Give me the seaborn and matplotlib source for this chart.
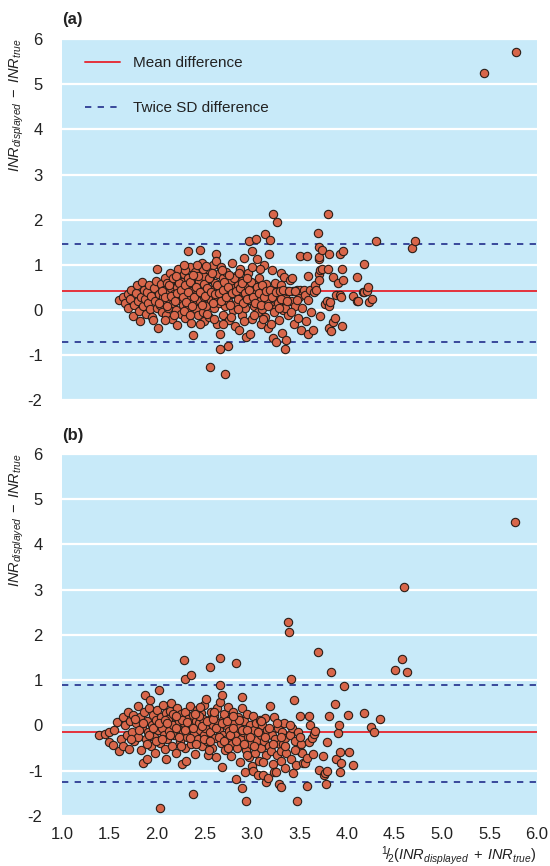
import numpy as np
import pandas as pd
import seaborn as sns
from matplotlib import pyplot as plt

# (mean, difference) pairs
a_pts = [
    (1.60,0.22),(1.64,0.30),(1.66,0.15),(1.69,0.35),(1.70,0.05),(1.72,0.25),(1.73,0.45),(1.75,-0.14),(1.76,0.12),(1.78,0.38),
    (1.79,0.55),(1.80,0.20),(1.81,-0.02),(1.82,-0.24),(1.83,0.30),(1.84,0.62),(1.85,0.10),(1.86,0.45),(1.87,0.25),(1.88,-0.08),
    (1.90,0.40),(1.91,0.15),(1.92,0.55),(1.93,0.02),(1.94,0.32),(1.95,-0.15),(1.96,-0.21),(1.97,0.48),(1.98,0.20),(1.99,0.65),
    (2.00,0.92),(2.00,0.05),(2.01,-0.39),(2.02,0.35),(2.03,0.12),(2.04,0.58),(2.05,-0.05),(2.06,0.28),(2.07,0.45),(2.08,0.72),
    (2.09,0.18),(2.10,-0.12),(2.10,0.38),(2.11,0.60),(2.12,0.05),(2.13,0.25),(2.14,0.82),(2.15,0.48),(2.16,-0.20),(2.17,0.15),
    (2.18,0.35),(2.19,0.68),(2.20,0.00),(2.21,-0.34),(2.21,0.52),(2.22,0.92),(2.23,0.22),(2.24,0.40),(2.25,-0.08),(2.26,0.62),
    (2.27,0.12),(2.28,0.80),(2.29,0.30),(2.30,-0.18),(2.31,0.50),(2.32,0.05),(2.33,1.31),(2.33,0.70),(2.34,0.25),(2.35,0.95),
    (2.36,-0.28),(2.37,0.42),(2.38,-0.55),(2.38,0.15),(2.39,0.58),(2.40,0.85),(2.41,0.02),(2.42,0.35),(2.43,-0.12),(2.44,0.65),
    (2.45,1.32),(2.45,0.20),(2.46,0.48),(2.47,1.05),(2.48,-0.05),(2.49,0.75),(2.50,0.30),(2.50,-0.25),(2.51,0.55),(2.52,0.10),
    (2.53,0.90),(2.54,0.38),(2.55,-0.15),(2.56,-1.26),(2.56,0.68),(2.57,0.22),(2.58,0.45),(2.59,1.00),(2.60,0.05),(2.61,0.60),
    (2.62,1.25),(2.62,1.09),(2.62,0.30),(2.63,-0.30),(2.64,0.80),(2.65,0.15),(2.66,-0.53),(2.66,-0.87),(2.66,0.50),(2.67,0.95),
    (2.68,0.25),(2.69,-0.10),(2.70,0.70),(2.71,0.40),(2.72,-1.42),(2.72,0.08),(2.73,0.85),(2.74,0.55),(2.75,-0.79),(2.75,0.20),
    (2.76,-0.22),(2.77,0.62),(2.78,0.35),(2.79,1.05),(2.80,0.00),(2.81,0.48),(2.82,-0.35),(2.83,0.75),(2.84,0.15),(2.85,0.55),
    (2.86,-0.45),(2.87,0.90),(2.88,0.28),(2.89,-0.10),(2.90,0.65),(2.91,0.40),(2.92,1.15),(2.93,0.05),(2.94,-0.59),(2.95,0.52),
    (2.96,0.82),(2.97,1.52),(2.97,0.22),(2.98,-0.53),(2.99,0.35),(3.00,1.30),(3.00,-0.20),(3.01,0.60),(3.02,0.10),(3.03,0.45),
    (3.04,1.57),(3.05,1.12),(3.05,0.30),(3.06,-0.05),(3.07,0.72),(3.08,0.20),(3.09,-0.30),(3.10,0.50),(3.11,0.02),(3.12,0.38),
    (3.13,0.99),(3.14,1.68),(3.14,-0.15),(3.15,0.58),(3.16,0.25),(3.17,-0.40),(3.18,1.24),(3.18,0.42),(3.19,1.55),(3.20,0.10),
    (3.21,0.88),(3.22,2.13),(3.22,-0.62),(3.23,0.32),(3.24,0.60),(3.25,-0.70),(3.25,0.05),(3.26,1.94),(3.27,0.42),(3.28,-0.22),
    (3.29,0.18),(3.30,0.55),(3.31,0.81),(3.32,-0.51),(3.32,0.40),(3.33,0.00),(3.34,0.73),(3.35,-0.87),(3.35,0.30),(3.36,-0.67),
    (3.37,0.42),(3.38,-0.10),(3.40,0.66),(3.41,0.20),(3.42,0.72),(3.43,0.42),(3.44,-0.30),(3.45,0.10),(3.47,0.45),(3.48,-0.18),
    (3.49,0.30),(3.50,0.44),(3.51,1.19),(3.52,-0.43),(3.53,0.05),(3.55,0.44),(3.56,0.33),(3.57,-0.25),(3.58,1.19),(3.59,0.22),
    (3.59,0.76),(3.59,-0.53),(3.61,0.45),(3.62,-0.05),(3.64,-0.45),(3.65,0.40),(3.66,0.55),(3.67,0.44),(3.69,1.71),(3.70,1.40),
    (3.70,1.14),(3.70,0.79),(3.71,0.66),(3.71,1.17),(3.72,0.88),(3.72,-0.13),(3.74,1.32),(3.74,0.90),(3.77,0.14),(3.79,0.20),
    (3.80,2.13),(3.80,0.90),(3.81,1.24),(3.81,0.08),(3.81,-0.39),(3.82,0.18),(3.83,-0.46),(3.85,0.73),(3.85,-0.26),(3.87,-0.17),
    (3.88,0.33),(3.91,0.60),(3.93,1.23),(3.93,0.33),(3.94,0.29),(3.95,0.90),(3.95,-0.35),(3.96,1.31),(3.96,0.66),(4.06,0.32),
    (4.10,0.73),(4.11,0.21),(4.12,0.20),(4.17,0.39),(4.18,1.03),(4.18,0.40),(4.21,0.42),(4.22,0.50),(4.23,0.18),(4.26,0.25),
    (4.31,1.53),(4.68,1.38),(4.72,1.53),(5.44,5.24),(5.78,5.71),
]
a_fill = [
    (2.02,0.15),(2.05,0.42),(2.08,0.30),(2.11,0.10),(2.13,0.55),(2.15,0.32),(2.17,0.70),(2.19,0.20),(2.21,0.38),(2.23,0.60),
    (2.25,0.45),(2.27,0.28),(2.29,0.55),(2.31,0.18),(2.33,0.40),(2.35,0.62),(2.37,0.08),(2.39,0.30),(2.41,0.52),(2.43,0.75),
    (2.45,0.40),(2.47,0.12),(2.49,0.58),(2.51,0.32),(2.53,0.48),(2.55,0.70),(2.57,0.40),(2.59,0.15),(2.61,0.35),(2.63,0.55),
    (2.65,0.38),(2.67,0.20),(2.69,0.45),(2.71,0.62),(2.73,0.30),(2.75,0.50),(2.77,0.12),(2.79,0.38),(2.81,0.70),(2.83,0.42),
    (2.85,0.25),(2.87,0.48),(2.89,0.60),(2.91,0.15),(2.93,0.38),(2.95,0.25),(2.97,0.45),(2.99,0.62),(3.01,0.30),(3.03,0.15),
    (3.05,0.50),(3.07,0.38),(3.09,0.12),(3.11,0.55),(3.13,0.30),(3.15,0.42),(3.17,0.08),(3.19,0.45),(3.21,0.28),(3.23,-0.05),
    (3.25,0.40),(3.27,0.15),(3.29,0.42),(3.31,0.25),(3.33,0.45),(3.35,0.05),(3.37,0.20),(3.39,0.42),(3.41,-0.05),(3.45,0.42),
    (3.47,0.22),(2.08,-0.22),(2.18,-0.10),(2.28,-0.02),(2.35,-0.10),(2.45,-0.30),(2.53,-0.08),(2.60,-0.20),(2.70,-0.30),(2.78,-0.15),
    (2.85,0.02),(2.92,-0.25),(3.02,-0.12),(3.12,-0.20),(3.20,-0.30),(3.28,0.05),(2.20,0.75),(2.30,0.88),(2.38,0.78),(2.48,0.90),
    (2.58,0.82),(2.68,0.88),(2.76,0.78),(2.86,0.82),(2.95,0.70),(3.08,0.90),(3.00,0.95),(2.52,0.98),(2.42,1.00),(2.28,1.00),
]
# (mean, difference) pairs
b_pts = [
    (1.39,-0.20),(1.45,-0.18),(1.49,-0.15),(1.49,-0.36),(1.54,-0.44),(1.55,-0.10),(1.575,0.08),(1.60,-0.57),(1.62,-0.30),(1.64,0.19),
    (1.645,-0.45),(1.66,0.00),(1.68,-0.20),(1.70,0.30),(1.71,-0.52),(1.72,0.10),(1.74,-0.15),(1.75,0.22),(1.76,-0.35),(1.78,0.05),
    (1.80,0.42),(1.80,-0.25),(1.82,0.18),(1.83,-0.55),(1.84,-0.05),(1.85,-0.83),(1.86,0.30),(1.87,0.67),(1.88,-0.30),(1.89,-0.73),
    (1.90,0.10),(1.91,-0.15),(1.92,0.38),(1.93,0.56),(1.94,-0.45),(1.95,0.00),(1.96,0.22),(1.97,-0.25),(1.98,-0.60),(1.99,0.12),
    (2.00,0.35),(2.01,-0.10),(2.02,0.78),(2.03,-1.83),(2.03,-0.38),(2.04,0.18),(2.05,-0.05),(2.06,0.45),(2.07,-0.22),(2.08,-0.52),
    (2.09,-0.73),(2.10,0.08),(2.10,0.28),(2.11,-0.30),(2.12,0.15),(2.13,-0.12),(2.14,0.32),(2.15,0.50),(2.16,-0.45),(2.17,0.02),
    (2.18,-0.20),(2.19,0.20),(2.20,-0.60),(2.21,0.38),(2.22,-0.08),(2.23,0.10),(2.24,-0.35),(2.25,0.25),(2.26,-0.86),(2.27,-0.15),
    (2.28,1.45),(2.28,0.05),(2.29,-0.50),(2.30,1.02),(2.30,0.30),(2.31,-0.78),(2.32,-0.25),(2.33,0.15),(2.34,-0.05),(2.35,0.42),
    (2.36,1.11),(2.36,-0.40),(2.37,0.00),(2.38,-1.51),(2.38,0.22),(2.39,-0.18),(2.40,-0.62),(2.41,0.10),(2.42,0.35),(2.43,-0.30),
    (2.44,0.05),(2.45,-0.10),(2.46,0.28),(2.47,-0.45),(2.48,0.15),(2.49,-0.22),(2.50,0.45),(2.51,-0.05),(2.52,0.58),(2.53,-0.35),
    (2.54,-0.65),(2.55,0.12),(2.56,1.30),(2.56,-0.15),(2.57,0.30),(2.58,-0.50),(2.59,0.00),(2.60,0.20),(2.61,-0.28),(2.62,-0.70),
    (2.63,0.38),(2.64,0.05),(2.65,-0.10),(2.66,1.50),(2.66,0.90),(2.66,0.52),(2.67,-0.38),(2.68,0.67),(2.68,-0.91),(2.69,0.12),
    (2.70,-0.20),(2.71,0.25),(2.72,-0.55),(2.73,0.00),(2.74,-0.30),(2.75,0.40),(2.76,-0.12),(2.77,0.15),(2.78,-0.68),(2.79,-0.40),
    (2.80,0.30),(2.81,0.05),(2.82,-0.22),(2.83,1.37),(2.83,-1.19),(2.84,-0.50),(2.85,0.18),(2.86,-0.05),(2.87,-0.80),(2.88,-0.30),
    (2.89,0.38),(2.90,0.62),(2.90,-1.39),(2.91,-0.15),(2.92,0.10),(2.93,-1.03),(2.94,-1.67),(2.94,-0.55),(2.95,0.25),(2.96,-0.25),
    (2.97,-0.70),(2.98,0.02),(2.99,-0.40),(3.00,-0.90),(3.01,0.21),(3.01,-1.00),(3.02,-0.10),(3.03,-0.60),(3.04,0.05),(3.05,-0.32),
    (3.06,-1.09),(3.07,-0.78),(3.08,0.12),(3.09,-0.20),(3.10,-0.50),(3.11,0.00),(3.12,-1.09),(3.13,-0.35),(3.14,0.16),(3.15,-1.24),
    (3.15,-0.65),(3.16,-0.10),(3.17,-1.17),(3.18,-0.45),(3.19,0.44),(3.20,-0.57),(3.21,-0.20),(3.22,-0.85),(3.23,0.19),(3.23,-1.03),
    (3.24,-0.30),(3.25,-1.03),(3.26,-0.65),(3.27,-0.05),(3.28,-1.29),(3.29,-0.42),(3.30,-0.78),(3.30,-0.56),(3.31,-1.35),(3.32,-0.15),
    (3.33,-0.42),(3.34,0.05),(3.35,-0.28),(3.36,-0.60),(3.38,2.28),(3.39,2.07),(3.40,-0.20),(3.41,1.02),(3.41,-0.75),(3.42,-0.05),
    (3.43,-1.04),(3.44,0.56),(3.45,-0.35),(3.46,-0.87),(3.47,-1.67),(3.48,-0.15),(3.51,0.21),(3.52,-0.42),(3.52,-0.59),(3.53,-0.60),
    (3.54,-0.84),(3.56,-0.84),(3.58,-1.33),(3.58,-0.71),(3.60,0.21),(3.60,-0.36),(3.61,0.02),(3.63,-0.27),(3.64,-0.62),(3.65,-0.19),
    (3.66,-0.12),(3.69,1.62),(3.71,-0.98),(3.75,-0.67),(3.76,-1.09),(3.77,-1.06),(3.78,-1.30),(3.79,-1.00),(3.79,-0.37),(3.81,0.21),
    (3.83,1.19),(3.87,0.47),(3.88,-0.75),(3.90,-0.16),(3.92,0.00),(3.93,-0.58),(3.93,-1.02),(3.94,-0.84),(3.97,0.86),(4.01,0.23),
    (4.02,-0.59),(4.06,-0.87),(4.18,0.27),(4.25,-0.03),(4.28,-0.14),(4.35,0.14),(4.51,1.22),(4.58,1.46),(4.60,3.05),(4.63,1.19),
    (5.77,4.49),
]
b_fill = [
    (1.73,-0.30),(1.77,0.15),(1.81,-0.10),(1.85,0.05),(1.89,-0.40),(1.92,-0.20),(1.96,-0.05),(1.99,-0.35),(2.02,0.05),(2.05,-0.30),
    (2.08,0.12),(2.11,0.05),(2.14,-0.20),(2.17,0.25),(2.20,-0.05),(2.23,-0.25),(2.26,0.12),(2.29,-0.10),(2.32,0.08),(2.35,-0.28),
    (2.38,-0.05),(2.41,-0.40),(2.44,0.20),(2.47,-0.02),(2.50,-0.30),(2.53,0.10),(2.56,-0.35),(2.59,0.15),(2.62,-0.05),(2.65,-0.25),
    (2.68,0.05),(2.71,-0.35),(2.74,0.10),(2.77,-0.22),(2.80,-0.05),(2.83,-0.35),(2.86,0.12),(2.89,-0.10),(2.92,-0.40),(2.95,-0.10),
    (2.98,-0.25),(3.02,-0.45),(3.06,-0.15),(3.10,0.10),(3.14,-0.25),(3.18,-0.05),(3.22,-0.40),(3.26,0.05),(3.30,-0.25),(3.35,-0.45),
    (3.40,0.00),(3.45,-0.55),(3.50,-0.25),(2.20,0.20),(2.40,0.25),(2.60,0.30),(2.80,0.20),(2.45,0.40),(2.25,-0.45),(2.55,-0.55),
    (2.75,-0.50),(2.95,-0.65),(3.12,-0.80),(3.35,-0.95),
]

# reference lines: mean and mean +/- 2 SD
a_lines = [0.43, 1.47, -0.71]
b_lines = [-0.15, 0.89, -1.25]

x_ticks = [1.0, 1.5, 2.0, 2.5, 3.0, 3.5, 4.0, 4.5, 5.0, 5.5, 6.0]
y_ticks = [-2, -1, 0, 1, 2, 3, 4, 5, 6]

bg = "#c8eaf9"
dot = "#d8664a"
red = "#e4333c"
navy = "#2e3b94"
ink = "#222222"

sns.set_style("white")
plt.rcParams['font.family'] = ['Liberation Sans', 'DejaVu Sans']
plt.rcParams['mathtext.fontset'] = 'custom'
plt.rcParams['mathtext.rm'] = 'Liberation Sans'
plt.rcParams['mathtext.it'] = 'Liberation Sans:italic'
plt.rcParams['axes.unicode_minus'] = False

fig = plt.figure(figsize=(5.5, 8.66), dpi=100)
ax_a = fig.add_axes([0.1127, 0.5376, 0.8637, 0.4174])
ax_b = fig.add_axes([0.1127, 0.0577, 0.8637, 0.4184])

ylab = r'$\mathit{INR}_{\mathit{displayed}}\;-\;\mathit{INR}_{\mathit{true}}$'

for ax, pts, lines in [(ax_a, a_pts + a_fill, a_lines), (ax_b, b_pts + b_fill, b_lines)]:
    df = pd.DataFrame(pts, columns=["mean", "diff"])
    ax.set_facecolor(bg)
    for y in y_ticks:
        ax.axhline(y, color="white", lw=1.6, zorder=1)
    ax.axhline(lines[0], color=red, lw=1.4, zorder=2, label="Mean difference")
    ax.axhline(lines[1], color=navy, lw=1.3, ls=(0, (3.5, 3.5)), zorder=2, label="Twice SD difference")
    ax.axhline(lines[2], color=navy, lw=1.3, ls=(0, (3.5, 3.5)), zorder=2)
    sns.scatterplot(data=df, x="mean", y="diff", ax=ax, s=36, color=dot,
                    edgecolor="#2a1e18", linewidth=0.8, zorder=3, legend=False)
    ax.set_xlim(1.0, 6.0)
    ax.set_ylim(-2, 6)
    ax.set_yticks(y_ticks)
    ax.set_yticklabels([str(v) for v in y_ticks], fontsize=12, color=ink)
    ax.tick_params(axis="y", length=0, pad=14)
    ax.set_ylabel(ylab, fontsize=10.5, loc="top", color=ink)
    ax.yaxis.set_label_coords(-0.075, 1.0)
    ax.set_xlabel("")
    for s in ax.spines.values():
        s.set_visible(False)

ax_a.set_xticks([])
ax_b.set_xticks(x_ticks)
ax_b.set_xticklabels([f"{v:.1f}" for v in x_ticks], fontsize=12, color=ink)
ax_b.tick_params(axis="x", direction="in", length=4, width=1.2, color="white", pad=8)

ax_b.text(1.0, -0.077, r'$^{1}\!/\!_{2}(\mathit{INR}_{\mathit{displayed}}\;+\;\mathit{INR}_{\mathit{true}})$',
          transform=ax_b.transAxes, ha="right", va="top", fontsize=10.5, color=ink)

leg = ax_a.legend(loc="upper left", bbox_to_anchor=(0.02, 0.99), frameon=False, fontsize=11,
                  handlelength=2.3, handletextpad=0.85, labelspacing=2.0)
for t in leg.get_texts():
    t.set_color(ink)

fig.text(0.1127, 0.977, "(a)", fontsize=12, fontweight="bold", ha="left", va="center", color=ink)
fig.text(0.1127, 0.497, "(b)", fontsize=12, fontweight="bold", ha="left", va="center", color=ink)

fig.savefig("out.png", dpi=100)
